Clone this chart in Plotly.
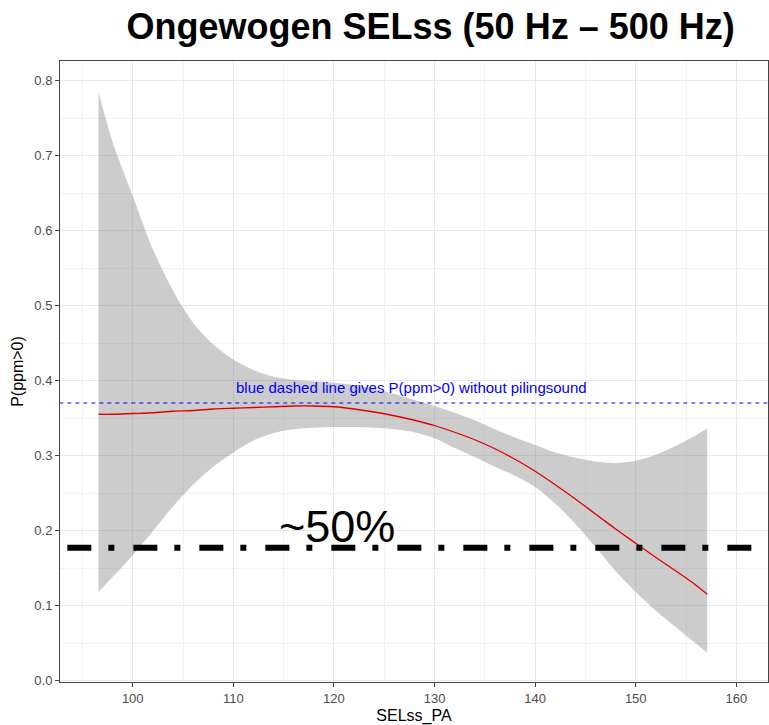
import plotly.graph_objects as go

# ---- data ----
sel_x = [96.6, 98, 100, 102, 104, 106, 108, 110, 112, 114, 116, 118, 120, 122, 124,
         126, 128, 130, 132, 134, 136, 138, 140, 142, 144, 146, 148, 150, 152, 154,
         156, 157.1]
fit_y = [0.355, 0.355, 0.356, 0.357, 0.359, 0.360, 0.362, 0.363, 0.364, 0.365, 0.366,
         0.366, 0.365, 0.362, 0.358, 0.353, 0.347, 0.340, 0.331, 0.321, 0.309, 0.295,
         0.279, 0.261, 0.242, 0.222, 0.202, 0.183, 0.164, 0.146, 0.127, 0.115]
upper_y = [0.784, 0.718, 0.646, 0.575, 0.520, 0.477, 0.448, 0.428, 0.414, 0.405, 0.401,
           0.399, 0.397, 0.394, 0.389, 0.382, 0.374, 0.366, 0.357, 0.347, 0.335, 0.324,
           0.314, 0.304, 0.297, 0.292, 0.290, 0.293, 0.301, 0.313, 0.327, 0.336]
lower_y = [0.118, 0.138, 0.167, 0.199, 0.232, 0.261, 0.285, 0.304, 0.320, 0.330, 0.335,
           0.337, 0.338, 0.338, 0.337, 0.335, 0.331, 0.323, 0.310, 0.298, 0.285, 0.273,
           0.258, 0.236, 0.209, 0.178, 0.146, 0.118, 0.093, 0.071, 0.049, 0.037]
baseline_p = 0.37          # P(ppm>0) without piling sound
half_level = 0.177         # ~50% line
line_x_span = [93.5, 161.6]
x_ticks = [100, 110, 120, 130, 140, 150, 160]
y_ticks = [0.0, 0.1, 0.2, 0.3, 0.4, 0.5, 0.6, 0.7, 0.8]

FONT = "Liberation Sans, Arial, sans-serif"

fig = go.Figure()

# confidence ribbon (lower edge, then upper edge filled down to it)
fig.add_trace(go.Scatter(x=sel_x, y=lower_y, mode="lines",
                         line=dict(width=0, shape="spline", smoothing=0.8),
                         hoverinfo="skip", showlegend=False))
fig.add_trace(go.Scatter(x=sel_x, y=upper_y, mode="lines", fill="tonexty",
                         fillcolor="rgba(128,128,128,0.4)",
                         line=dict(width=0, shape="spline", smoothing=0.8),
                         hoverinfo="skip", showlegend=False))
# fitted line
fig.add_trace(go.Scatter(x=sel_x, y=fit_y, mode="lines",
                         line=dict(color="#e00000", width=1.3, shape="spline", smoothing=0.8),
                         showlegend=False))
# blue dashed reference
fig.add_trace(go.Scatter(x=[92.7, 163.2], y=[baseline_p, baseline_p], mode="lines",
                         line=dict(color="#0000ff", width=1.1, dash="4px,4px"),
                         showlegend=False))
# black dash-dot ~50% line
fig.add_trace(go.Scatter(x=line_x_span, y=[half_level, half_level], mode="lines",
                         line=dict(color="black", width=6, dash="24px,17px,6px,19px"),
                         showlegend=False))

fig.add_annotation(x=127.7, y=0.391, text="blue dashed line gives P(ppm>0) without pilingsound",
                   showarrow=False, font=dict(family=FONT, size=15, color="#0000ff"))
fig.add_annotation(x=120.3, y=0.205, text="~50%", showarrow=False,
                   font=dict(family=FONT, size=45, color="black"))

axis_common = dict(showline=True, mirror=True, linecolor="#444444", linewidth=1,
                   ticks="outside", ticklen=4, tickcolor="#444444", tickwidth=1,
                   gridcolor="#e8e8e8", gridwidth=1.1, zeroline=False,
                   tickfont=dict(family=FONT, size=13, color="#4d4d4d"))

fig.update_xaxes(range=[92.77, 163.15], tickvals=x_ticks,
                 minor=dict(dtick=5, tick0=95, showgrid=True, gridcolor="#f2f2f2", gridwidth=0.6),
                 title=dict(text="SELss_PA", font=dict(family=FONT, size=16, color="black"),
                            standoff=6),
                 **axis_common)
fig.update_yaxes(range=[-0.002, 0.826], tickvals=y_ticks, ticktext=[f"{v:.1f}" for v in y_ticks],
                 minor=dict(dtick=0.05, tick0=0.05, showgrid=True, gridcolor="#f2f2f2", gridwidth=0.6),
                 title=dict(text="P(ppm>0)", font=dict(family=FONT, size=16, color="black"),
                            standoff=6),
                 **axis_common)

fig.update_layout(
    width=769, height=725,
    margin=dict(l=60, r=1, t=61, b=43),
    plot_bgcolor="white", paper_bgcolor="white",
    title=dict(text="<b>Ongewogen SELss (50 Hz – 500 Hz)</b>", x=0.56, xanchor="center",
               y=0.964, yanchor="middle",
               font=dict(family=FONT, size=36, color="black")),
    showlegend=False,
)

fig.write_html("out.html")
